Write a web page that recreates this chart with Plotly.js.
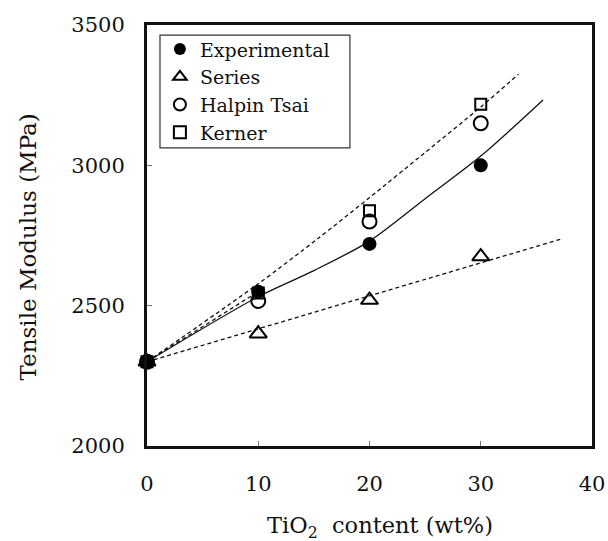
<!DOCTYPE html>
<html>
<head>
<meta charset="utf-8">
<script src="https://cdn.plot.ly/plotly-3.0.1.min.js"></script>
<style>html,body{margin:0;padding:0;background:#fff;}#chart{width:608px;height:541px;}</style>
</head>
<body>
<div id="chart"></div>
<script>
// Measured data points (TiO2 wt% vs tensile modulus, MPa)
const tio2 = [0, 10, 20, 30];
const experimental = [2300, 2550, 2720, 3000];
const seriesModel = [2300, 2400, 2520, 2675];
const halpinTsai = [2300, 2517, 2800, 3150];
const kerner = [2300, 2545, 2838, 3218];

// Fitted/trend curves
const solidX = [0, 10, 15, 20, 25, 30, 35.6];
const solidY = [2300, 2532, 2625, 2730, 2881, 3033, 3233];
const upperDashX = [0, 10, 15.3, 20, 25, 30, 33.4];
const upperDashY = [2300, 2578, 2737, 2885, 3046, 3208, 3325];
const shortDashX = [0, 10];
const shortDashY = [2300, 2550];
const lowerDashX = [0, 37.2];
const lowerDashY = [2300, 2737];

const xTicks = [0, 10, 20, 30, 40];
const yTicks = [2000, 2500, 3000, 3500];

const xTitle = 'TiO<sub>2</sub>  content (wt%)';
const yTitle = 'Tensile Modulus (MPa)';

const FONT = 'DejaVu Serif, serif';

const lineTrace = (x, y, dash) => ({
  x: x, y: y, mode: 'lines', type: 'scatter', showlegend: false, hoverinfo: 'skip',
  line: {color: '#111', width: 1.3, dash: dash, shape: 'spline', smoothing: 0.8}
});

const traces = [
  lineTrace(lowerDashX, lowerDashY, '4px,3px'),
  lineTrace(shortDashX, shortDashY, '4px,3px'),
  lineTrace(upperDashX, upperDashY, '4px,3px'),
  lineTrace(solidX, solidY, 'solid'),
  {x: tio2, y: seriesModel, name: 'Series', mode: 'markers', type: 'scatter', legendrank: 2, legendgroup: 'b',
   marker: {symbol: 'triangle-up-open', size: 15, color: '#000', line: {width: 2, color: '#000'}}, cliponaxis: false},
  {x: tio2, y: halpinTsai, name: 'Halpin Tsai', mode: 'markers', type: 'scatter', legendrank: 3, legendgroup: 'c',
   marker: {symbol: 'circle-open', size: 14, color: '#000', line: {width: 2, color: '#000'}}, cliponaxis: false},
  {x: tio2, y: kerner, name: 'Kerner', mode: 'markers', type: 'scatter', legendrank: 4, legendgroup: 'd',
   marker: {symbol: 'square-open', size: 11, color: '#000', line: {width: 2, color: '#000'}}, cliponaxis: false},
  {x: tio2, y: experimental, name: 'Experimental', mode: 'markers', type: 'scatter', legendrank: 1, legendgroup: 'a',
   marker: {symbol: 'circle', size: 14, color: '#000'}, cliponaxis: false}
];

const layout = {
  width: 608, height: 541,
  margin: {l: 147, r: 16, t: 25, b: 95},
  paper_bgcolor: '#fff', plot_bgcolor: '#fff',
  font: {family: FONT, color: '#111', size: 21},
  showlegend: true,
  legend: {
    x: 0.029, y: 0.9875, xanchor: 'left', yanchor: 'top',
    borderwidth: 0, bgcolor: 'rgba(0,0,0,0)',
    font: {family: FONT, size: 19, color: '#111'},
    itemsizing: 'constant', tracegroupgap: 3, traceorder: 'normal'
  },
  shapes: [{
    type: 'rect', xref: 'paper', yref: 'paper',
    x0: 0.0292, x1: 0.456, y0: 0.708, y1: 0.976,
    line: {color: '#333', width: 1.2}, fillcolor: 'rgba(0,0,0,0)', layer: 'below'
  }],
  annotations: [{
    xref: 'paper', yref: 'paper', x: 0.5247, y: -0.192,
    xanchor: 'center', yanchor: 'middle', showarrow: false,
    text: xTitle, font: {family: FONT, size: 22.5, color: '#111'}
  }, {
    xref: 'paper', yref: 'paper', x: -0.2674, y: 0.4715,
    xanchor: 'center', yanchor: 'middle', showarrow: false, textangle: -90,
    text: yTitle, font: {family: FONT, size: 23, color: '#111'}
  }],
  xaxis: {
    range: [0, 40], tickvals: xTicks, ticktext: xTicks.map(String),
    showgrid: false, zeroline: false,
    showline: true, linewidth: 3, linecolor: '#111', mirror: true,
    ticks: 'inside', ticklen: 5, tickwidth: 1, tickcolor: '#777',
    ticklabelstandoff: 17,
    tickfont: {family: FONT, size: 21, color: '#111'}
  },
  yaxis: {
    range: [2000, 3500], tickvals: yTicks, ticktext: yTicks.map(String),
    showgrid: false, zeroline: false,
    showline: true, linewidth: 3, linecolor: '#111', mirror: true,
    ticks: 'inside', ticklen: 5, tickwidth: 1, tickcolor: '#777',
    ticklabelstandoff: 15,
    tickfont: {family: FONT, size: 21, color: '#111'}
  }
};

Plotly.newPlot('chart', traces, layout, {staticPlot: true, displayModeBar: false});
</script>
</body>
</html>
